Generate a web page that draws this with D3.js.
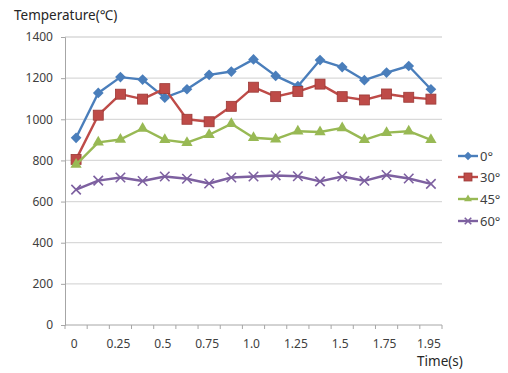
<!DOCTYPE html>
<html><head><meta charset="utf-8">
<script src="https://cdn.jsdelivr.net/npm/d3@7"></script>
<style>body{margin:0;background:#fff;}svg{display:block;font-family:"Noto Sans",sans-serif;}</style>
</head><body>
<script>
const categories = ["0","0.125","0.25","0.375","0.5","0.625","0.75","0.875","1.0","1.125","1.25","1.375","1.5","1.625","1.75","1.875","1.95"];
const shownLabels = ["0","0.25","0.5","0.75","1.0","1.25","1.5","1.75","1.95"];
const seriesNames = ["0°","30°","45°","60°"];
const s0 = [910,1128,1205,1193,1105,1146,1216,1232,1291,1211,1161,1288,1254,1190,1227,1259,1146];
const s30 = [805,1020,1122,1098,1149,1000,988,1063,1156,1110,1135,1171,1110,1094,1123,1107,1098];
const s45 = [780,888,902,955,900,886,925,978,910,903,942,938,958,900,935,942,900];
const s60 = [658,702,717,700,722,711,688,717,722,727,723,698,722,701,729,712,686];
const yTicks = [0,200,400,600,800,1000,1200,1400];

const W=508,H=373;
const svg=d3.select("body").append("svg").attr("width",W).attr("height",H);
const x=d3.scaleBand().domain(categories).range([65,442]).padding(0);
const y=d3.scaleLinear().domain([0,1400]).range([325,37]);

svg.append("g").selectAll("line").data(yTicks.filter(d=>d>0)).join("line")
 .attr("x1",65).attr("x2",442).attr("y1",d=>y(d)).attr("y2",d=>y(d))
 .attr("stroke","#d9d9d9").attr("stroke-width",1.3);

const ya=svg.append("g").attr("transform","translate(65,0)").call(d3.axisLeft(y).tickValues(yTicks).tickFormat(d3.format("d")).tickSize(4).tickPadding(8));
ya.select(".domain").attr("stroke","#a6a6a6");
ya.selectAll(".tick line").attr("stroke","#a6a6a6");
ya.selectAll("text").attr("fill","#404040").attr("font-size",12).attr("font-family","Noto Sans");

const xa=svg.append("g").attr("transform","translate(0,325)");
xa.append("line").attr("x1",65).attr("x2",442).attr("stroke","#a6a6a6");
const bounds=categories.map(c=>x(c)).concat([x(categories[categories.length-1])+x.bandwidth()]);
xa.selectAll("line.t").data(bounds).join("line").attr("class","t")
 .attr("x1",d=>d).attr("x2",d=>d).attr("y1",0).attr("y2",4).attr("stroke","#a6a6a6");
xa.selectAll("text").data(categories.filter(c=>shownLabels.includes(c))).join("text")
 .attr("x",d=>x(d)+x.bandwidth()/2-2).attr("y",23).attr("text-anchor","middle")
 .attr("fill","#404040").attr("font-size",12).text(d=>d);

svg.append("text").attr("x",14).attr("y",20).attr("font-size",13.5).attr("fill","#262626").text("Temperature(℃)");
svg.append("text").attr("x",440).attr("y",366).attr("text-anchor","middle").attr("font-size",13.5).attr("fill","#262626").text("Time(s)");

const colors=["#4A7EBB","#BE4B48","#98B954","#7D60A0"];
const data=[s0,s30,s45,s60];
const line=d3.line().x((d,i)=>x(categories[i])+x.bandwidth()/2).y(d=>y(d));
function marker(g,type,c,size){
  if(type===0) g.append("path").attr("d",d3.symbol(d3.symbolDiamond2,size*size*0.9)).attr("fill",c);
  else if(type===1) g.append("rect").attr("x",-size/2).attr("y",-size/2).attr("width",size).attr("height",size).attr("fill",c).attr("stroke","#9c3a37").attr("stroke-width",0.8);
  else if(type===2) g.append("path").attr("d",d3.symbol(d3.symbolTriangle,size*size*0.55)).attr("fill",c);
  else g.append("path").attr("d",d3.symbol(d3.symbolX,size*size*0.6)).attr("stroke",c).attr("stroke-width",1.6).attr("fill","none");
}
const sizes=[9,10,10,10];
data.forEach((s,k)=>{
  svg.append("path").datum(s).attr("d",line).attr("fill","none").attr("stroke",colors[k]).attr("stroke-width",2.4).attr("stroke-linejoin","round");
  s.forEach((v,i)=>{
    const g=svg.append("g").attr("transform",`translate(${x(categories[i])+x.bandwidth()/2},${y(v)})`);
    marker(g,k,colors[k],sizes[k]);
  });
});

const ly=[156,177,199,221];
seriesNames.forEach((n,k)=>{
  svg.append("line").attr("x1",458).attr("x2",478).attr("y1",ly[k]).attr("y2",ly[k]).attr("stroke",colors[k]).attr("stroke-width",2.4);
  const g=svg.append("g").attr("transform",`translate(468,${ly[k]})`);
  marker(g,k,colors[k],k===1?8:7);
  svg.append("text").attr("x",480).attr("y",ly[k]+5).attr("font-size",13).attr("fill","#404040").text(n);
});
</script>
</body></html>
